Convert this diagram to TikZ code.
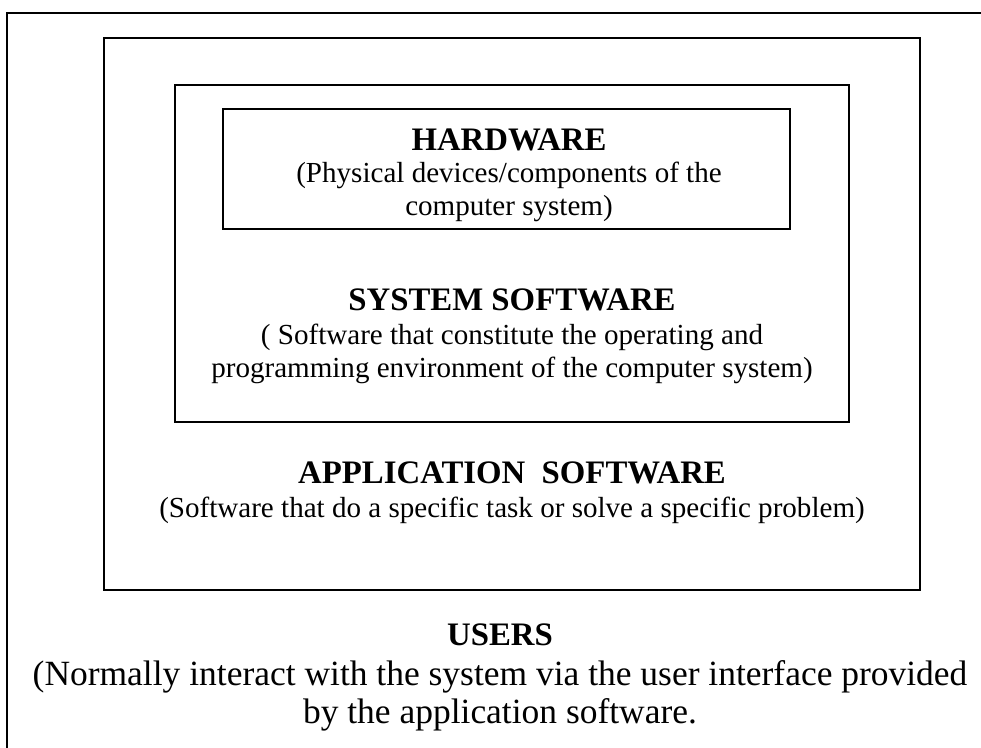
\documentclass[tikz,border=0pt]{standalone}
\usepackage{fontspec}
\setmainfont{Liberation Serif}
\usepackage{tikz}
\tikzset{
  layer/.style   = {draw=black, line width=1.1pt},
  lyhead/.style  = {anchor=base, inner sep=0pt, font=\fontsize{24.6}{28}\selectfont\bfseries},
  lytext/.style  = {anchor=base, inner sep=0pt, align=center,
                    font=\fontsize{21.8}{24.5}\selectfont},
  usrtext/.style = {anchor=base, inner sep=0pt, align=center,
                    font=\fontsize{26.6}{28.5}\selectfont},
}

\begin{document}
\begin{tikzpicture}[x=0.75pt, y=-0.75pt]
  \useasboundingbox (0,0) rectangle (981,747);
  \clip (0,0) rectangle (981,747);

  % nested layers, outermost first
  \draw[layer] (7,13) rectangle (1000,770);
  \draw[layer] (104,38) rectangle (920,590);
  \draw[layer] (175,85) rectangle (849,422);
  \draw[layer] (223,109) rectangle (790,229);

  % base of a two-line text is its last line
  \node[lyhead] (hw) at (509,150) {HARDWARE};
  \node[lytext] (hwtxt) at (509,215) {(Physical devices/components of the\\computer system)};

  \node[lyhead] (sys) at (512,310) {SYSTEM SOFTWARE};
  \node[lytext] (systxt) at (512,377) {( Software that constitute the operating and\\
        programming environment of the computer system)};

  \node[lyhead] (app) at (512,483) {APPLICATION\ \ SOFTWARE};
  \node[lytext] (apptxt) at (512,517) {(Software that do a specific task or solve a specific problem)};

  \node[lyhead] (usr) at (500,645) {USERS};
  \node[usrtext] (usrtxt) at (500,723) {(Normally interact with the system via the user interface provided\\
        by the application software.};
\end{tikzpicture}
\end{document}
